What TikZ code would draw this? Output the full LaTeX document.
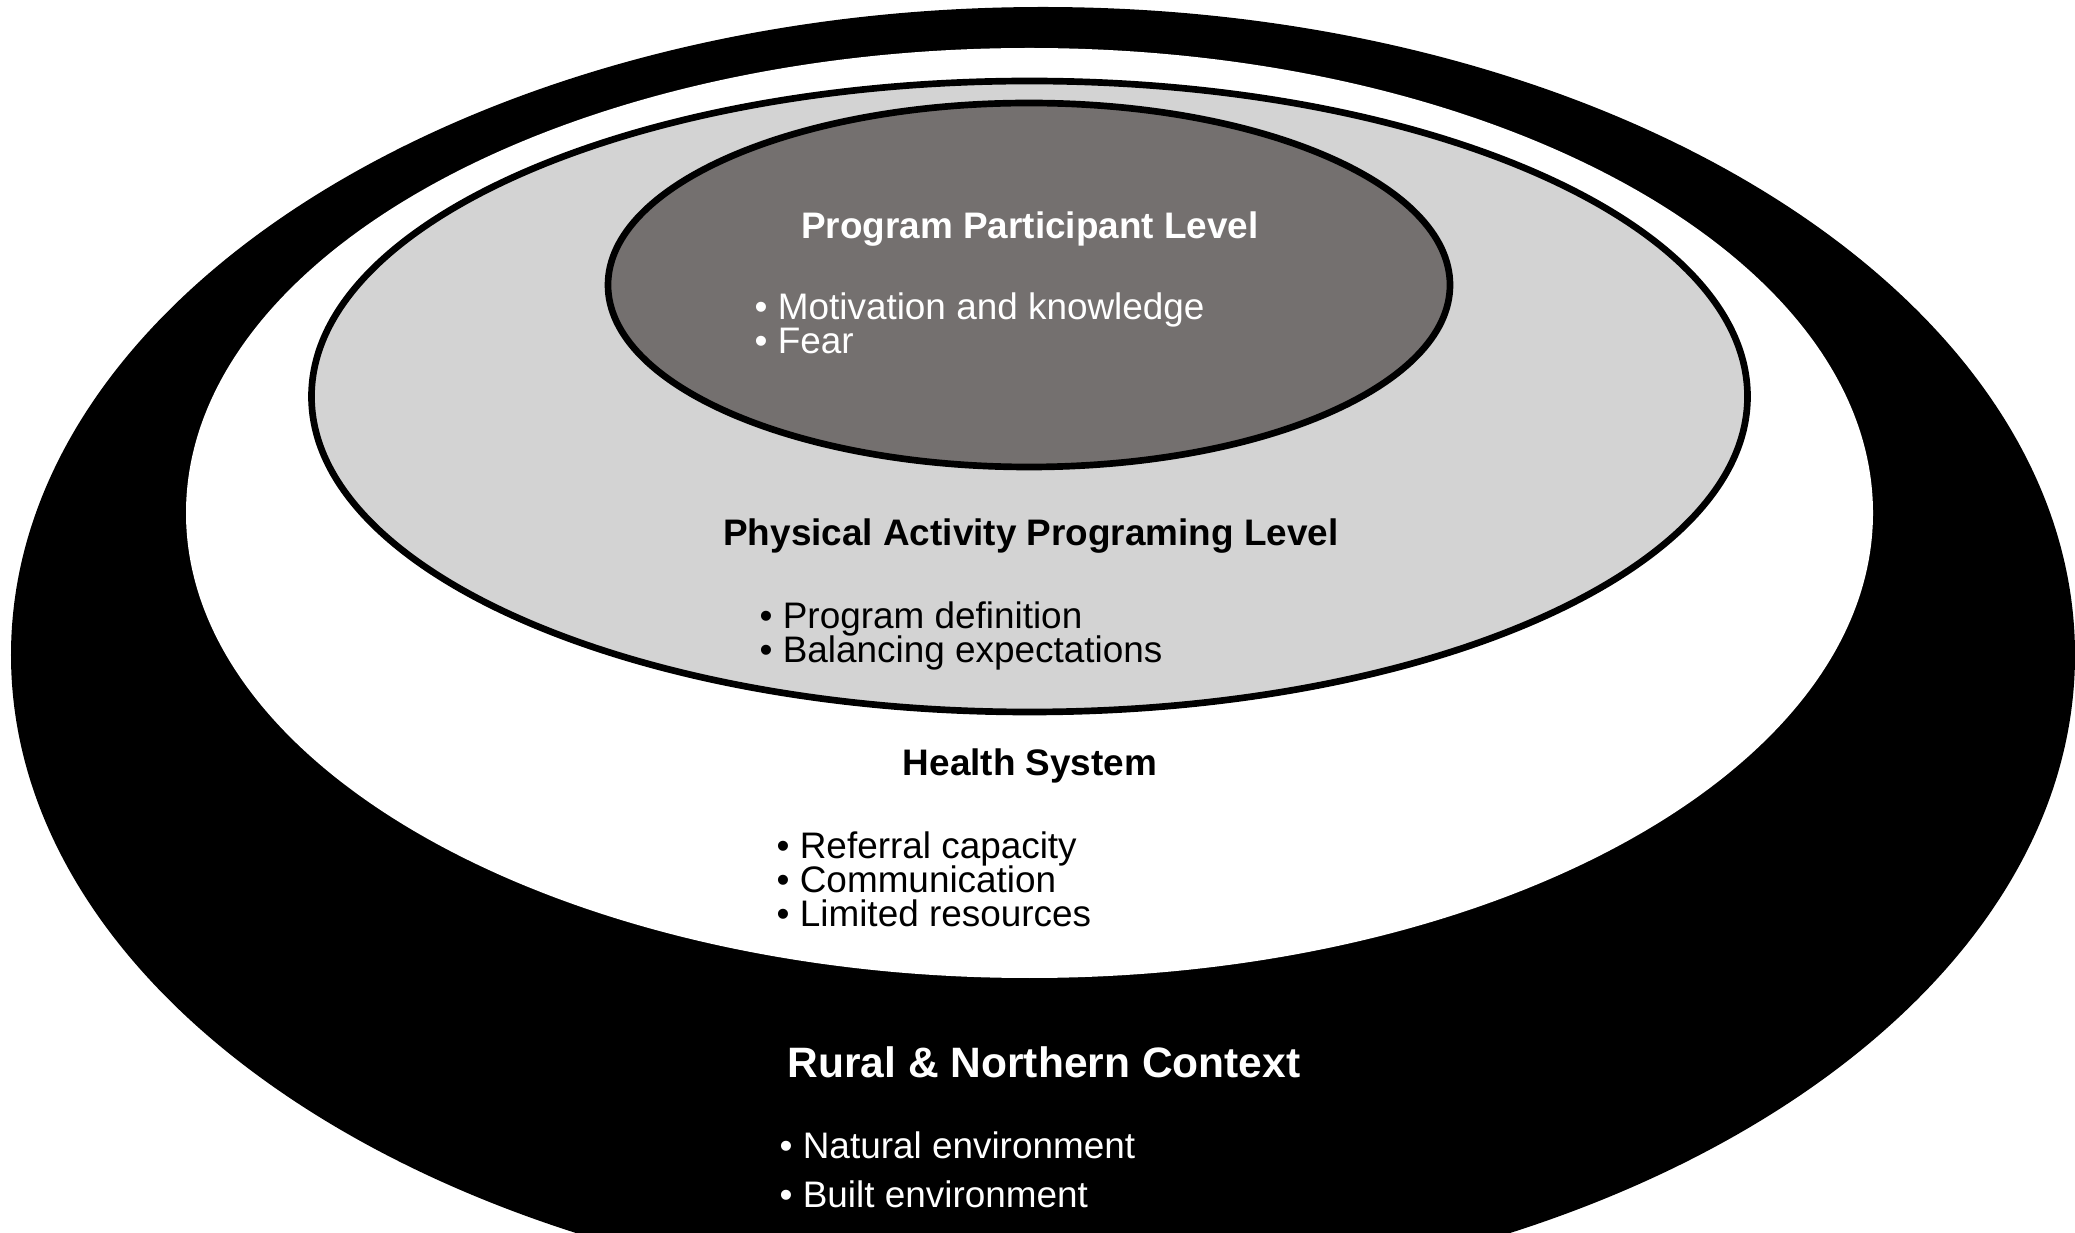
\documentclass[tikz,border=0pt]{standalone}
\usepackage{fontspec}
\setmainfont{Liberation Sans}
\usepackage{tikz}
\usetikzlibrary{positioning}
\usepackage{xcolor}
\definecolor{lvdark}{RGB}{116,112,111}
\definecolor{lvlight}{RGB}{211,211,211}
\tikzstyle{ring} = [draw=black, line width=1.9pt]
\tikzstyle{level} = [anchor=base, inner sep=0pt, font=\fontsize{10.5}{12}\selectfont\bfseries]
\tikzstyle{item} = [anchor=base west, inner sep=0pt, text height=7pt, text depth=2.3pt, font=\fontsize{10.5}{12}\selectfont]

\begin{document}
\begin{tikzpicture}
\useasboundingbox (0,0) rectangle (20.75,12.32);
\fill[white] (0,0) rectangle (20.75,12.32);
\clip (0,0) rectangle (20.75,12.32);

% Nested levels, outside in
\fill[black] (10.43,5.77) ellipse [x radius=10.32, y radius=6.48];
\fill[white] (10.295,7.19) ellipse [x radius=8.435, y radius=4.65];
\draw[ring, fill=lvlight] (10.295,8.355) ellipse [x radius=7.18, y radius=3.155];
\draw[ring, fill=lvdark] (10.29,9.47) ellipse [x radius=4.21, y radius=1.82];

% Program participant level
\node (participant) [level, text=white] at (10.3,9.935) {Program Participant Level};
\node (motiv) [item, text=white] at (7.54,9.125) {• Motivation and knowledge};
\node (fear) [item, text=white, below=0pt of motiv.south west, anchor=north west] {• Fear};

% Programming level
\node (programing) [level] at (10.31,6.865) {Physical Activity Programing Level};
\node (progdef) [item] at (7.59,6.035) {• Program definition};
\node (balance) [item, below=0pt of progdef.south west, anchor=north west] {• Balancing expectations};

% Health system
\node (health) [level] at (10.3,4.565) {Health System};
\node (referral) [item] at (7.76,3.735) {• Referral capacity};
\node (comm) [item, below=0pt of referral.south west, anchor=north west] {• Communication};
\node (limited) [item, below=0pt of comm.south west, anchor=north west] {• Limited resources};

% Rural and northern context
\node (rural) [level, text=white, font=\fontsize{12.1}{14}\selectfont\bfseries] at (10.44,1.55) {Rural \& Northern Context};
\node (natural) [item, text=white] at (7.79,0.74) {• Natural environment};
\node (built) [item, text=white, below=4.5pt of natural.south west, anchor=north west] {• Built environment};
\end{tikzpicture}
\end{document}
